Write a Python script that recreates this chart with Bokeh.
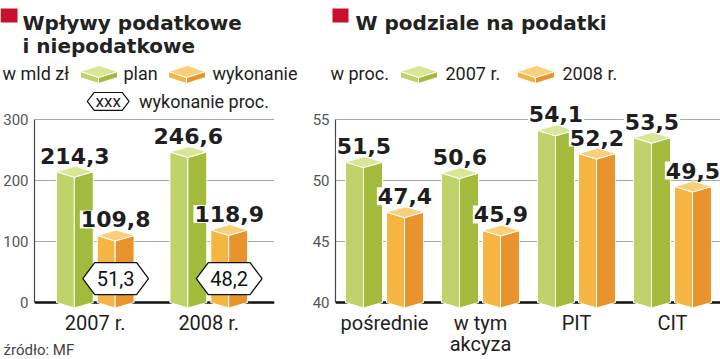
from bokeh.plotting import figure
from bokeh.layouts import row, column
from bokeh.models import Range1d, FixedTicker, Label, Title, Span
from bokeh.embed import file_html
from bokeh.resources import INLINE
from bokeh.core.properties import value

# ---------------- data ----------------
years = ["2007 r.", "2008 r."]
plan_bn = [214.3, 246.6]          # plan, mld zł
exec_bn = [109.8, 118.9]          # wykonanie, mld zł
exec_pct = [51.3, 48.2]           # wykonanie proc.
left_ticks = [0, 100, 200, 300]

tax_cats = ["pośrednie", "w tym\nakcyza", "PIT", "CIT"]
share_2007 = [51.5, 50.6, 54.1, 53.5]
share_2008 = [47.4, 45.9, 52.2, 49.5]
right_ticks = [40, 45, 50, 55]

# ---------------- style ----------------
HDR_H = 88            # header strip
CH_H = 359 - HDR_H    # chart strip
BORDER_B = 50
FRAME_TOP = HDR_H                 # page y of chart frame top
FRAME_BOT = 359 - BORDER_B        # page y of chart frame bottom
BASE_Y = 303                      # page y of the base line
GRID_TOP = 119                    # page y of the highest grid line
GREEN = dict(front="#bfd36a", side="#a3bb3d", top="#d8e696")
ORANGE = dict(front="#f6b443", side="#e8932b", top="#f9cf7a")
RED = "#c8102e"
TXT = "#1e1e1e"


def fmt(v):
    return f"{v:.1f}".replace(".", ",")


def box3d(x0, xm, x1, base, h, dv):
    xb = x0 + (x1 - xm)
    front = ([x0, xm, xm, x0], [base, base - dv, h - dv, h])
    side = ([xm, x1, x1, xm], [base - dv, base, h, h - dv])
    top = ([x0, xm, x1, xb], [h, h - dv, h, h + dv])
    return front, side, top


def make_chart(width, bl, br, center0, xpx, base, ytop, ticks, labels, v1, v2, pct=None):
    """center0: x of the first category centre, in pixels from the figure's left edge."""
    ypx = (BASE_Y - GRID_TOP) / (ytop - base)
    ystart = base - (FRAME_BOT - BASE_Y) / ypx
    yend = base + (BASE_Y - FRAME_TOP) / ypx
    fw = width - bl - br
    xstart = -(center0 - bl) / xpx
    p = figure(width=width, height=CH_H, x_range=Range1d(xstart, xstart + fw / xpx),
               y_range=Range1d(ystart, yend), output_backend="svg", toolbar_location=None,
               min_border_left=bl, min_border_right=br, min_border_top=0,
               min_border_bottom=BORDER_B, title=None)
    p.extra_x_ranges = {"px": Range1d(bl, width - br)}
    p.extra_y_ranges = {"px": Range1d(FRAME_BOT, FRAME_TOP)}
    p.outline_line_color = None
    p.background_fill_color = "white"
    p.border_fill_color = "white"
    p.xgrid.visible = False
    p.ygrid.ticker = FixedTicker(ticks=ticks)
    p.ygrid.grid_line_color = "#a9a9a9"
    p.ygrid.grid_line_width = 1.2
    p.add_layout(Span(location=base, dimension="width", line_color="#111111",
                      line_width=2.5, level="underlay"))

    ya = p.yaxis[0]
    ya.ticker = FixedTicker(ticks=ticks)
    ya.bounds = (base, ytop)
    ya.axis_line_color = "#444444"
    ya.axis_line_width = 1.2
    ya.major_tick_line_color = None
    ya.major_tick_out = 0
    ya.major_tick_in = 0
    ya.minor_tick_line_color = None
    ya.major_label_standoff = 6
    ya.major_label_text_font = "Roboto"
    ya.major_label_text_font_size = "15px"
    ya.major_label_text_color = "#555555"

    xa = p.xaxis[0]
    xa.ticker = FixedTicker(ticks=list(range(len(labels))))
    xa.major_label_overrides = {i: lab for i, lab in enumerate(labels)}
    xa.axis_line_color = None
    xa.major_tick_line_color = None
    xa.major_tick_out = 0
    xa.major_tick_in = 0
    xa.minor_tick_line_color = None
    xa.major_label_standoff = 2
    xa.major_label_text_font = "Roboto"
    xa.major_label_text_font_size = "20px"
    xa.major_label_text_line_height = 0.9
    xa.major_label_text_color = TXT

    dv = 5.5 / ypx
    polys = {k: {f: ([], []) for f in ("front", "side", "top")} for k in ("g", "o")}
    for i, (a, b) in enumerate(zip(v1, v2)):
        for key, (l, m, r), h in (("g", (-39, -21, -2), a), ("o", (2, 20, 39), b)):
            f, s, t = box3d(i + l / xpx, i + m / xpx, i + r / xpx, base, h, dv)
            for face, poly in (("front", f), ("side", s), ("top", t)):
                polys[key][face][0].append(poly[0])
                polys[key][face][1].append(poly[1])
    for key, col in (("g", GREEN), ("o", ORANGE)):
        for face in ("front", "side", "top"):
            p.patches(polys[key][face][0], polys[key][face][1], fill_color=col[face],
                      line_color="white", line_width=1)

    for i, (a, b) in enumerate(zip(v1, v2)):
        for off, h in ((-20.5, a), (20.5, b)):
            p.add_layout(Label(x=i + off / xpx, y=h, y_offset=16, text=fmt(h),
                               text_font="DejaVu Sans", text_font_style="bold",
                               text_font_size="22px", text_color=TXT, text_align="center",
                               text_baseline="alphabetic", background_fill_color="white",
                               padding=1))

    if pct is not None:
        hx, hy, tx, ty = [], [], [], []
        cy = base + 24 / ypx
        for i, v in enumerate(pct):
            cx = i + 20.5 / xpx
            hx.append([cx - 33 / xpx, cx - 21 / xpx, cx + 21 / xpx, cx + 33 / xpx,
                       cx + 21 / xpx, cx - 21 / xpx])
            hy.append([cy, cy + 16 / ypx, cy + 16 / ypx, cy, cy - 16 / ypx, cy - 16 / ypx])
            tx.append(cx)
            ty.append(cy)
        p.patches(hx, hy, fill_color="white", line_color="#111111", line_width=1.3)
        p.text(x=tx, y=ty, text=[fmt(v) for v in pct], text_font=value("Roboto"),
               text_font_size=value("20px"), text_align="center", text_baseline="middle",
               text_color="#111111")
    return p


def txt(p, x, y, s, size, font="Roboto", style="normal", color=TXT, baseline="middle",
        align="left", **kw):
    p.text(x=[x], y=[y], text=[s], text_font=value(font), text_font_size=value(f"{size}px"),
           text_font_style=style, text_color=color, text_baseline=baseline, text_align=align,
           **kw)


def icon(p, x0, yl, col):
    xm, x1, xb = x0 + 18, x0 + 37, x0 + 19
    p.patches([[x0, xm, xm, x0], [xm, x1, x1, xm], [x0, xm, x1, xb]],
              [[yl, yl + 6, yl + 12, yl + 6], [yl + 6, yl, yl + 6, yl + 12],
               [yl, yl + 6, yl, yl - 6]],
              fill_color=[col["front"], col["side"], col["top"]], line_color="white",
              line_width=1)


# ---------------- header ----------------
hdr = figure(width=720, height=HDR_H, x_range=Range1d(0, 720), y_range=Range1d(HDR_H, 0),
             output_backend="svg", toolbar_location=None, x_axis_location=None,
             y_axis_location=None, min_border=0, title=None)
hdr.grid.visible = False
hdr.outline_line_color = None
hdr.quad(left=[0, 332], right=[17, 348], top=[8, 8], bottom=[22, 22], fill_color=RED,
         line_color=None)
txt(hdr, 22, 22.5, "Wpływy podatkowe", 20, font="DejaVu Sans", style="bold",
    baseline="alphabetic", color="#222222")
txt(hdr, 22, 45, "i niepodatkowe", 20, font="DejaVu Sans", style="bold",
    baseline="alphabetic", color="#222222")
txt(hdr, 355, 22.5, "W podziale na podatki", 20, font="DejaVu Sans", style="bold",
    baseline="alphabetic", color="#222222")
txt(hdr, 2, 73, "w mld zł", 18)
icon(hdr, 80, 71, GREEN)
txt(hdr, 123, 73, "plan", 18)
icon(hdr, 168, 71, ORANGE)
txt(hdr, 212, 73, "wykonanie", 18)
txt(hdr, 330, 73, "w proc.", 18)
icon(hdr, 400, 71, GREEN)
txt(hdr, 445, 73, "2007 r.", 18)
icon(hdr, 517, 71, ORANGE)
txt(hdr, 562, 73, "2008 r.", 18)

# ---------------- left chart (figure starts at page x 0) ----------------
left = make_chart(300, 33, 26, 94, 114.0, 0, 300, left_ticks, years, plan_bn, exec_bn,
                  exec_pct)
left.patches([[86, 93, 121, 128, 121, 93]], [[101, 92, 92, 101, 110, 110]],
             fill_color="white", line_color="#111111", line_width=1.2,
             x_range_name="px", y_range_name="px")
txt(left, 107, 101, "xxx", 17, align="center", x_range_name="px", y_range_name="px")
txt(left, 138, 101, "wykonanie proc.", 18, x_range_name="px", y_range_name="px")
left.add_layout(Title(text="źródło: MF", align="left", offset=-31, text_font="Roboto",
                      text_font_size="15px", text_font_style="normal",
                      text_color="#444444", standoff=2), "below")

# ---------------- right chart (figure starts at page x 300) ----------------
right = make_chart(420, 35, 0, 384 - 300, 96.0, 40, 55, right_ticks, tax_cats, share_2007,
                   share_2008)

page = column(hdr, row(left, right))
open("out.html", "w").write(file_html(page, INLINE))
